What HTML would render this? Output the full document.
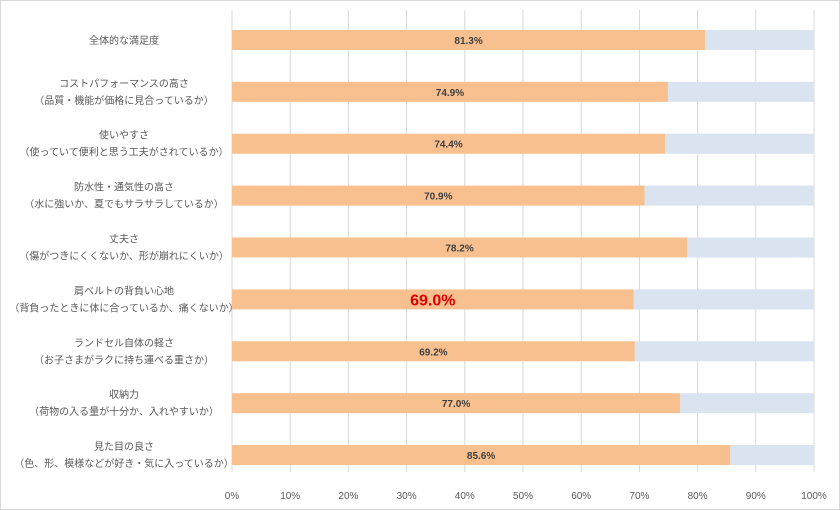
<!DOCTYPE html>
<html><head><meta charset="utf-8"><style>
html,body{margin:0;padding:0;background:#fff}
body{width:840px;height:510px;overflow:hidden;font-family:"Liberation Sans","Noto Sans CJK JP",sans-serif}
#frame{position:absolute;left:0;top:0;width:838px;height:508px;border:1px solid #d9d9d9}
</style></head><body>
<div id="frame"></div>
<svg id="chart" width="840" height="510" style="position:absolute;left:0;top:0"></svg>
<script>
const line1 = ["全体的な満足度","コストパフォーマンスの高さ","使いやすさ","防水性・通気性の高さ","丈夫さ","肩ベルトの背負い心地","ランドセル自体の軽さ","収納力","見た目の良さ"];
const line2 = ["","（品質・機能が価格に見合っているか）","（使っていて便利と思う工夫がされているか）","（水に強いか、夏でもサラサラしているか）","（傷がつきにくくないか、形が崩れにくいか）","（背負ったときに体に合っているか、痛くないか）","（お子さまがラクに持ち運べる重さか）","（荷物の入る量が十分か、入れやすいか）","（色、形、模様などが好き・気に入っているか）"];
const values = [81.3,74.9,74.4,70.9,78.2,69.0,69.2,77.0,85.6];
const highlight = [false,false,false,false,false,true,false,false,false];
const ticks = [0,10,20,30,40,50,60,70,80,90,100];

const NS="http://www.w3.org/2000/svg";
const svg=document.getElementById('chart');
const x0=232,x1=814,yTop=14,yBot=481,gridBot=472;
const xs=v=>x0+(x1-x0)*v/100;
const rowH=(yBot-yTop)/values.length;
const yc=i=>yTop+rowH*(i+0.5);
function mk(t,a){const e=document.createElementNS(NS,t);for(const k in a)e.setAttribute(k,a[k]);svg.appendChild(e);return e;}
ticks.forEach(t=>{
  const g=mk('line',{x1:xs(t),x2:xs(t),y1:10,y2:gridBot,stroke:'#d9d9d9','stroke-width':1});
  
  
  const l=mk('text',{x:xs(t),y:499,'text-anchor':'middle','font-size':10,fill:'#595959'});
  l.textContent=t+'%';
  
  
});
values.forEach((v,i)=>{
  const c=yc(i);
  const bg=mk('rect',{x:xs(v),y:c-10,width:xs(100)-xs(v),height:20,fill:'#dae3f0'});
  
  
  const b=mk('rect',{x:x0,y:c-10,width:xs(v)-x0,height:20,fill:'#f8c08f'});
  
  
  const vl=mk('text',{x:(x0+xs(v))/2,y:c+(highlight[i]?6:4),'text-anchor':'middle','font-size':highlight[i]?16:10,'font-weight':'bold',fill:highlight[i]?'#e00000':'#404040'});
  vl.textContent=v.toFixed(1)+'%';
  
  
  const cx=124;
  if(line2[i]){
    const a=mk('text',{x:cx,y:c-5,'text-anchor':'middle','font-size':10,fill:'#595959'});
    a.textContent=line1[i];
    
    
    const b2=mk('text',{x:cx,y:c+12,'text-anchor':'middle','font-size':10,fill:'#595959'});
    b2.textContent=line2[i];
    
    
  } else {
    const a=mk('text',{x:cx,y:c+4,'text-anchor':'middle','font-size':10,fill:'#595959'});
    a.textContent=line1[i];
    
    
  }
});
</script>
</body></html>
